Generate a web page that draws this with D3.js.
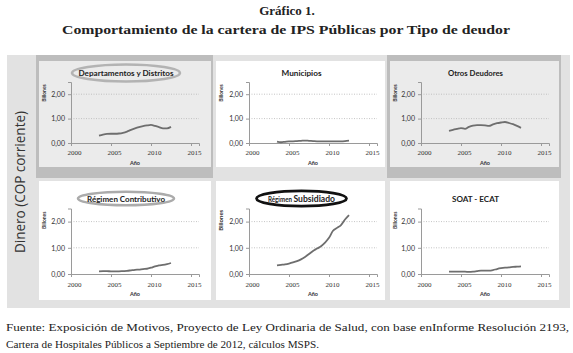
<!DOCTYPE html>
<html>
<head>
<meta charset="utf-8">
<script src="https://cdn.jsdelivr.net/npm/d3@7"></script>
<style>
  body { margin: 0; background: #fff; }
  svg { display: block; }
</style>
</head>
<body>
<svg id="chart" width="573" height="353"></svg>
<script>
// values in billones COP (half-year steps)
const years = [2003.5, 2004, 2004.5, 2005, 2005.5, 2006, 2006.5, 2007, 2007.5, 2008,
  2008.5, 2009, 2009.5, 2010, 2010.5, 2011, 2011.5, 2012, 2012.5];

const deptos = [0.30, 0.34, 0.37, 0.38, 0.38, 0.39, 0.42, 0.47, 0.54, 0.60,
  0.65, 0.69, 0.72, 0.74, 0.70, 0.65, 0.60, 0.60, 0.66];
const municipios = [0.06, 0.03, 0.05, 0.07, 0.07, 0.08, 0.09, 0.10, 0.09, 0.08,
  0.07, 0.07, 0.07, 0.07, 0.07, 0.07, 0.07, 0.08, 0.10];
const otros = [0.50, 0.54, 0.58, 0.61, 0.58, 0.66, 0.71, 0.73, 0.73, 0.72,
  0.70, 0.76, 0.81, 0.84, 0.86, 0.82, 0.77, 0.70, 0.62];
const contributivo = [0.10, 0.11, 0.11, 0.10, 0.10, 0.10, 0.11, 0.12, 0.14, 0.16,
  0.17, 0.19, 0.20, 0.24, 0.29, 0.33, 0.35, 0.38, 0.42];
const subsidiado = [0.33, 0.35, 0.37, 0.40, 0.44, 0.49, 0.56, 0.65, 0.76, 0.88,
  0.97, 1.06, 1.20, 1.38, 1.65, 1.76, 1.87, 2.08, 2.25];
const soat = [0.09, 0.09, 0.09, 0.09, 0.09, 0.08, 0.09, 0.11, 0.13, 0.13,
  0.13, 0.15, 0.19, 0.22, 0.24, 0.25, 0.27, 0.28, 0.29];

const titles = ['Departamentos y Distritos', 'Municipios', 'Otros Deudores',
  'Régimen Contributivo', 'Régimen Subsidiado', 'SOAT - ECAT'];
const xTicks = [2000, 2005, 2010, 2015];
const yTicks = [0, 1, 2];

const series = [deptos, municipios, otros, contributivo, subsidiado, soat];

// layout of the 2x3 grid
const cols = [{ x: 36, w: 177, axis: 71 }, { x: 213, w: 174, axis: 249 }, { x: 387, w: 174, axis: 421 }];
const rows = [
  { y: 55, h: 123, inTop: 61, inBot: 167, y0: 143, yTop: 82, title: 76, tick: 157, label: 165 },
  { y: 178, h: 130, inTop: 181, inBot: 300, y0: 274, yTop: 208.5, title: 201.5, tick: 289, label: 296 }
];

const svg = d3.select('#chart');
const fmt = d => d.toFixed(2).replace('.', ',');

// headings
svg.append('text')
  .attr('x', 287).attr('y', 15)
  .attr('text-anchor', 'middle')
  .style('font', 'bold 13px "Liberation Serif", serif')
  .attr('fill', '#222')
  .text('Gráfico 1.');
svg.append('text')
  .attr('x', 286).attr('y', 34)
  .attr('text-anchor', 'middle')
  .attr('textLength', 448).attr('lengthAdjust', 'spacingAndGlyphs')
  .style('font', 'bold 13.5px "Liberation Serif", serif')
  .attr('fill', '#222')
  .text('Comportamiento de la cartera de IPS Públicas por Tipo de deudor');

// outer background
svg.append('rect')
  .attr('x', 7).attr('y', 55).attr('width', 563).attr('height', 253)
  .attr('fill', '#e2e2e2');

svg.append('text')
  .attr('transform', 'translate(25,182) rotate(-90)')
  .attr('text-anchor', 'middle')
  .attr('textLength', 142).attr('lengthAdjust', 'spacingAndGlyphs')
  .style('font', '14px "Open Sans", sans-serif')
  .attr('fill', '#333')
  .text('Dinero (COP corriente)');

series.forEach((values, i) => {
  const c = cols[i % 3];
  const r = rows[Math.floor(i / 3)];
  const shaded = (i % 2) === 0 ? i !== 4 && (i === 0 || i === 2) : i === 4;
  const g = svg.append('g');

  if (shaded) {
    g.append('rect')
      .attr('x', c.x).attr('y', r.y).attr('width', c.w).attr('height', r.h)
      .attr('fill', '#bdbdbd');
  }
  g.append('rect')
    .attr('x', c.x + 3).attr('y', r.inTop).attr('width', c.w - 5).attr('height', r.inBot - r.inTop)
    .attr('fill', shaded ? '#ebebeb' : '#ffffff');

  const x = d3.scaleLinear().domain([2000, 2016]).range([c.axis, c.axis + 128]);
  const y = d3.scaleLinear().domain([0, 2.5]).range([r.y0, r.yTop]);

  // dotted gridlines
  g.selectAll('.grid')
    .data([1, 2])
    .join('line')
    .attr('x1', x(2000)).attr('x2', x(2016))
    .attr('y1', d => y(d)).attr('y2', d => y(d))
    .attr('stroke', '#b5b5b5')
    .attr('stroke-dasharray', '1,1.5')
    .attr('stroke-width', 0.8);

  // axes
  const yAxis = g.append('g')
    .attr('transform', `translate(${x(2000)},0)`)
    .call(d3.axisLeft(y).tickValues(yTicks).tickSize(3).tickFormat(fmt));
  const xAxis = g.append('g')
    .attr('transform', `translate(0,${r.y0})`)
    .call(d3.axisBottom(x).tickValues(xTicks).tickSize(3).tickFormat(d3.format('d')));

  [yAxis, xAxis].forEach(ax => {
    ax.select('.domain').attr('stroke', '#9a9a9a');
    ax.selectAll('.tick line').attr('stroke', '#9a9a9a');
  });
  yAxis.selectAll('.tick text')
    .attr('x', -6)
    .style('font', '7px Lato, sans-serif')
    .attr('fill', '#333');
  xAxis.selectAll('.tick text')
    .attr('y', r.tick - r.y0 - 7).attr('dx', 3)
    .style('font', '7px "Liberation Serif", serif')
    .attr('fill', '#333');

  g.append('text')
    .attr('x', (x(2000) + x(2016)) / 2).attr('y', r.label)
    .attr('text-anchor', 'middle')
    .style('font', 'bold 5.5px Lato, sans-serif')
    .attr('fill', '#333')
    .text('Año');

  g.append('text')
    .attr('transform', `translate(${c.x + 10},${(r.yTop + y(1.6)) / 2}) rotate(-90)`)
    .attr('text-anchor', 'middle')
    .style('font', `bold ${i === 4 ? 6 : 5}px Lato, sans-serif`)
    .attr('fill', '#333')
    .text('Billones');

  // series line
  const line = d3.line()
    .x((d, k) => x(years[k]))
    .y(d => y(d))
    .curve(d3.curveMonotoneX);
  g.append('path')
    .datum(values)
    .attr('d', line)
    .attr('fill', 'none')
    .attr('stroke', '#6e6e6e')
    .attr('stroke-width', 1.8);

  // panel title
  const tx = c.x + 3 + (c.w - 5) / 2 + 1;
  if (i === 0 || i === 3 || i === 4) {
    const ell = [{ rx: 54, ry: 8.5, stroke: '#b3b3b3', sw: 2.5 },
      null, null,
      { rx: 48, ry: 6.8, stroke: '#ababab', sw: 2.5 },
      { rx: 45, ry: 7.6, stroke: '#111', sw: 2.8 }][i];
    g.append('ellipse')
      .attr('cx', tx).attr('cy', r.title - 3)
      .attr('rx', ell.rx).attr('ry', ell.ry)
      .attr('fill', shaded ? '#ebebeb' : '#fff')
      .attr('stroke', ell.stroke).attr('stroke-width', ell.sw);
  }
  const widths = [95, 40, 55, 78, 67, 47];
  const t = g.append('text')
    .attr('x', tx).attr('y', r.title)
    .attr('text-anchor', 'middle')
    .attr('textLength', widths[i]).attr('lengthAdjust', 'spacingAndGlyphs')
    .style('font', 'bold 8px Lato, sans-serif')
    .attr('fill', '#222');
  if (i === 4) {
    t.append('tspan').style('font-size', '6.5px').text('Régimen ');
    t.append('tspan').style('font-size', '9px').text('Subsidiado');
  } else {
    t.text(titles[i]);
  }
});

// source note
svg.append('text')
  .attr('x', 6).attr('y', 331)
  .attr('textLength', 563).attr('lengthAdjust', 'spacingAndGlyphs')
  .style('font', '11px "Liberation Serif", serif')
  .attr('fill', '#222')
  .text('Fuente: Exposición de Motivos, Proyecto de Ley Ordinaria de Salud, con base enInforme Resolución 2193,');
svg.append('text')
  .attr('x', 6).attr('y', 348)
  .attr('textLength', 313).attr('lengthAdjust', 'spacingAndGlyphs')
  .style('font', '11px "Liberation Serif", serif')
  .attr('fill', '#222')
  .text('Cartera de Hospitales Públicos a Septiembre de 2012, cálculos MSPS.');
</script>
</body>
</html>
